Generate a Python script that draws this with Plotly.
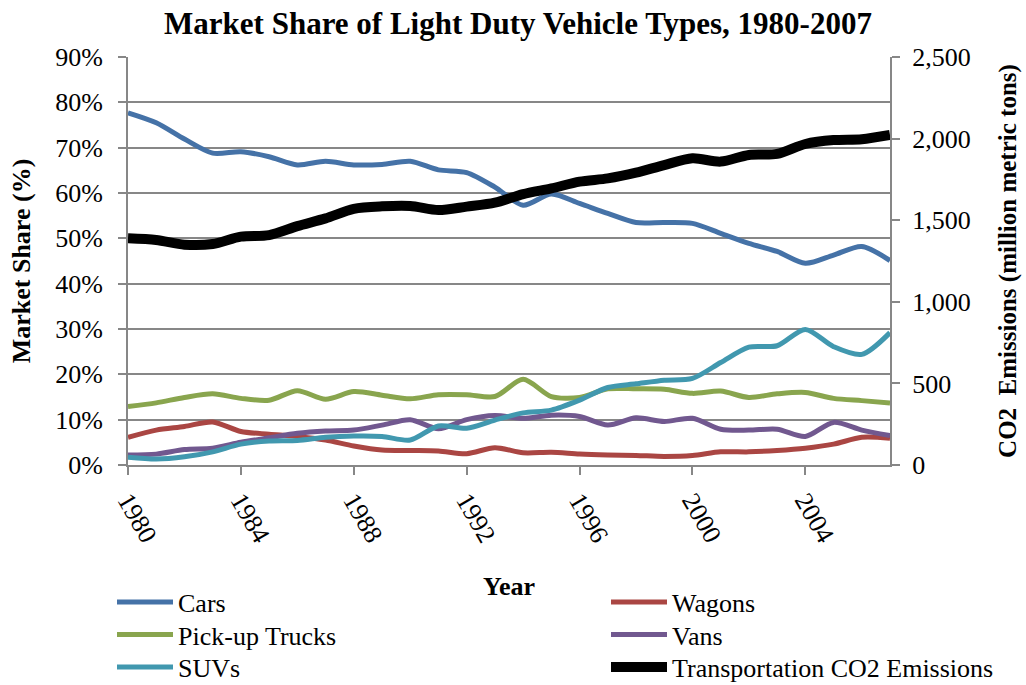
import plotly.graph_objects as go

years = list(range(1980, 2008))
cars = [77.7, 75.5, 71.9, 68.8, 69.1, 68.0, 66.2, 67.0, 66.2, 66.3, 67.0, 65.1, 64.5, 61.3,
        57.3, 59.8, 57.7, 55.5, 53.5, 53.5, 53.3, 51.1, 48.9, 47.1, 44.5, 46.3, 48.2, 45.1]
wagons = [6.1, 7.7, 8.5, 9.5, 7.4, 6.8, 6.3, 5.5, 4.2, 3.3, 3.2, 3.1, 2.5, 3.8,
          2.7, 2.8, 2.4, 2.2, 2.1, 1.9, 2.1, 2.9, 2.9, 3.2, 3.7, 4.6, 6.1, 5.9]
pickups = [12.9, 13.7, 14.9, 15.7, 14.7, 14.3, 16.4, 14.5, 16.2, 15.4, 14.6, 15.5, 15.5, 15.1,
           18.9, 15.1, 14.9, 16.8, 16.8, 16.7, 15.8, 16.3, 14.9, 15.7, 16.0, 14.7, 14.2, 13.7]
vans = [2.2, 2.4, 3.4, 3.7, 5.0, 6.0, 7.0, 7.5, 7.7, 8.8, 10.0, 8.0, 10.0, 10.9,
        10.3, 11.0, 10.7, 8.8, 10.4, 9.6, 10.3, 7.9, 7.7, 7.9, 6.3, 9.4, 7.7, 6.5]
suvs = [1.7, 1.3, 1.8, 2.9, 4.6, 5.3, 5.4, 6.1, 6.4, 6.3, 5.5, 8.6, 8.1, 9.9,
        11.5, 12.1, 14.3, 17.1, 17.9, 18.7, 19.1, 22.6, 26.0, 26.3, 29.9, 26.1, 24.4, 29.2]
co2 = [1389, 1379, 1350, 1354, 1399, 1409, 1464, 1511, 1570, 1585, 1587, 1562, 1583, 1607,
       1660, 1695, 1736, 1756, 1791, 1838, 1879, 1859, 1900, 1906, 1967, 1991, 1996, 2022]

series_names = ["Cars", "Wagons", "Pick-up Trucks", "Vans", "SUVs"]
series_vals = [cars, wagons, pickups, vans, suvs]
series_cols = ["#4572A7", "#AA4643", "#89A54E", "#71588F", "#4198AF"]
co2_name = "Transportation CO2 Emissions"

FONT = "Liberation Serif"
W, H = 1026, 685
L, T, PW, PH = 128, 57, 762.0, 408.0

def px_x(px):
    return (px - L) / PW

def px_y(py):
    return (T + PH - py) / PH

# legend slots: (left edge px, row centre px) in reading order
leg_slots = [(112, 602), (606, 602), (112, 634.5), (606, 634.5), (112, 667), (606, 667)]
leg_ids = ["legend"] + ["legend%d" % i for i in range(2, 7)]

fig = go.Figure()
for i, (name, vals, col) in enumerate(zip(series_names, series_vals, series_cols)):
    fig.add_trace(go.Scatter(x=years, y=vals, name=name, mode="lines", legend=leg_ids[i],
                             line=dict(color=col, width=5, shape="spline", smoothing=0.8)))
fig.add_trace(go.Scatter(x=years, y=co2, name=co2_name, mode="lines",
                         yaxis="y2", legend=leg_ids[5],
                         line=dict(color="black", width=10, shape="spline", smoothing=0.8)))

axis_col = "#878787"
legends = {}
for lid, (lx, ly) in zip(leg_ids, leg_slots):
    legends[lid] = dict(x=px_x(lx), y=px_y(ly), xanchor="left", yanchor="middle",
                        orientation="v", font=dict(size=26), bgcolor="rgba(0,0,0,0)",
                        itemwidth=56)

fig.update_layout(
    width=W, height=H,
    margin=dict(l=L, r=W - L - PW, t=T, b=H - T - PH, autoexpand=False),
    paper_bgcolor="white", plot_bgcolor="white",
    font=dict(family=FONT, size=26, color="black"),
    title=dict(text="<b>Market Share of Light Duty Vehicle Types, 1980-2007</b>",
               xref="container", x=518 / W, xanchor="center", yref="container",
               y=1 - 23 / H, yanchor="middle",
               font=dict(family=FONT, size=31, color="black")),
    xaxis=dict(range=[1980, 2007], tickmode="array", tickvals=list(range(1980, 2008, 4)),
               tickangle=60, showgrid=False, showline=True, linecolor=axis_col, linewidth=2,
               ticks="outside", ticklen=8, tickcolor=axis_col, tickwidth=2,
               tickfont=dict(size=26), automargin=False,
               title=dict(text="<b>Year</b>", font=dict(size=26), standoff=30)),
    yaxis=dict(range=[0, 90], dtick=10, ticksuffix="%", showgrid=True, gridcolor=axis_col,
               gridwidth=2, showline=True, linecolor=axis_col, linewidth=2, zeroline=False,
               ticks="outside", ticklen=8, tickcolor=axis_col, tickwidth=2,
               tickfont=dict(size=26), automargin=False, ticklabelstandoff=10,
               title=dict(text="<b>Market Share (%)</b>", font=dict(size=26), standoff=17)),
    yaxis2=dict(range=[0, 2500], dtick=500, tickformat=",", overlaying="y", side="right",
                showgrid=False, showline=True, linecolor=axis_col, linewidth=2, zeroline=False,
                ticks="outside", ticklen=8, tickcolor=axis_col, tickwidth=2,
                tickfont=dict(size=26), automargin=False, ticklabelstandoff=7,
                title=dict(text="<b>CO2  Emissions (million metric tons)</b>", font=dict(size=25), standoff=29)),
    showlegend=True,
    **legends,
)
fig.write_html("out.html", config={"displayModeBar": False},
               post_script="document.body.style.margin='0';")
